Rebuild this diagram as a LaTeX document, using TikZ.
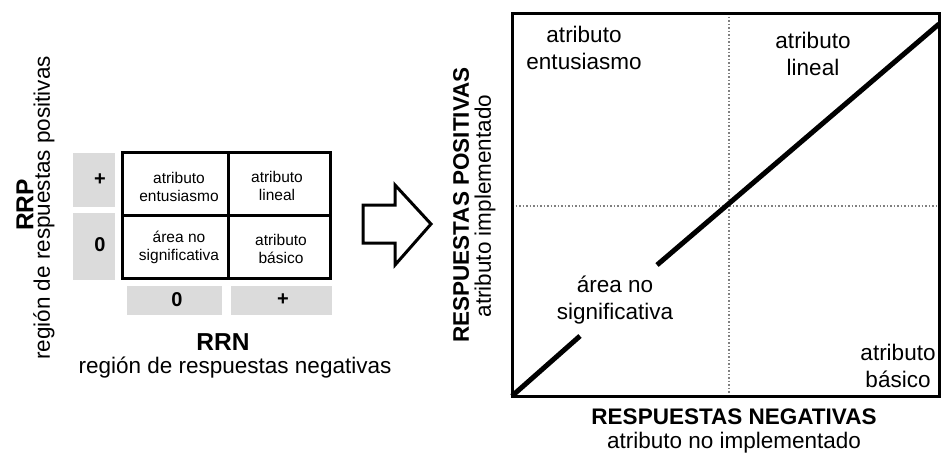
\documentclass[tikz,border=0pt]{standalone}
\usepackage{fontspec}
\setmainfont{Liberation Sans}
\begin{document}
\begin{tikzpicture}[x=1pt,y=-1pt,
    small/.style={inner sep=0pt, align=center, font=\fontsize{15.5}{18}\selectfont},
    sign/.style={inner sep=0pt, font=\fontsize{20}{22}\selectfont\bfseries},
    big/.style={inner sep=0pt, align=center, font=\fontsize{22.5}{27}\selectfont},
    bigbold/.style={inner sep=0pt, align=center, font=\fontsize{22.5}{27}\selectfont\bfseries},
    graybox/.style={fill=black!14, draw=none},
    guide/.style={gray, line width=1.5pt, dotted}]
    \useasboundingbox (0,0) rectangle (941,453);
    % left: small table
    \fill[graybox] (73,153) rectangle (115,207);
    \fill[graybox] (73,213) rectangle (115,280);
    \fill[graybox] (127,286) rectangle (222,315);
    \fill[graybox] (231,286) rectangle (332,315);
    \draw[line width=3pt] (122,152) rectangle (330,278);
    \draw[line width=3pt] (228,152) -- (228,278);
    \draw[line width=3pt] (122,215) -- (330,215);
    \node[small] (ent) at (179,187) {atributo\\entusiasmo};
    \node[small] (lin) at (277,186) {atributo\\lineal};
    \node[small] (ans) at (179,247) {área no\\significativa};
    \node[small] (bas) at (281,249) {atributo\\básico};
    \node[sign] (yp) at (100,180) {+};
    \node[sign] (yz) at (100,245) {0};
    \node[sign] (xz) at (177,300) {0};
    \node[sign] (xp) at (283,300) {+};
    \node[bigbold, rotate=90, font=\fontsize{24.5}{27}\selectfont\bfseries] (rrp) at (25,205) {RRP};
    \node[big, rotate=90] (rrptxt) at (44,208) {región de respuestas positivas};
    \node[bigbold, font=\fontsize{24.5}{27}\selectfont\bfseries] (rrn) at (223,342) {RRN};
    \node[big] (rrntxt) at (235,368) {región de respuestas negativas};
    % arrow
    \draw[line width=3pt, line join=miter] (363,205) -- (395,205) -- (395,185) -- (431,224)
        -- (395,265) -- (395,243) -- (363,243) -- cycle;
    % right: chart
    \draw[guide] (729,13) -- (729,396);
    \draw[guide] (512,206) -- (939,206);
    \draw[line width=3pt] (512,13) rectangle (939,396);
    \coordinate (o) at (512,396);
    \coordinate (g1) at (580,336);
    \coordinate (g2) at (657,265);
    \coordinate (e) at (939,24);
    \draw[line width=5pt] (o) -- (g1);
    \draw[line width=5pt] (g2) -- (e);
    \node[big] (q1) at (584,48) {atributo\\entusiasmo};
    \node[big] (q2) at (813,54) {atributo\\lineal};
    \node[big] (q3) at (615,300) {área no\\significativa};
    \node[big] (q4) at (898,366) {atributo\\básico};
    \node[bigbold, rotate=90] (ypos) at (461,205) {RESPUESTAS POSITIVAS};
    \node[big, rotate=90] (yimp) at (485,206) {atributo implementado};
    \node[bigbold] (xneg) at (734,417) {RESPUESTAS NEGATIVAS};
    \node[big] (ximp) at (734,443) {atributo no implementado};
\end{tikzpicture}
\end{document}
